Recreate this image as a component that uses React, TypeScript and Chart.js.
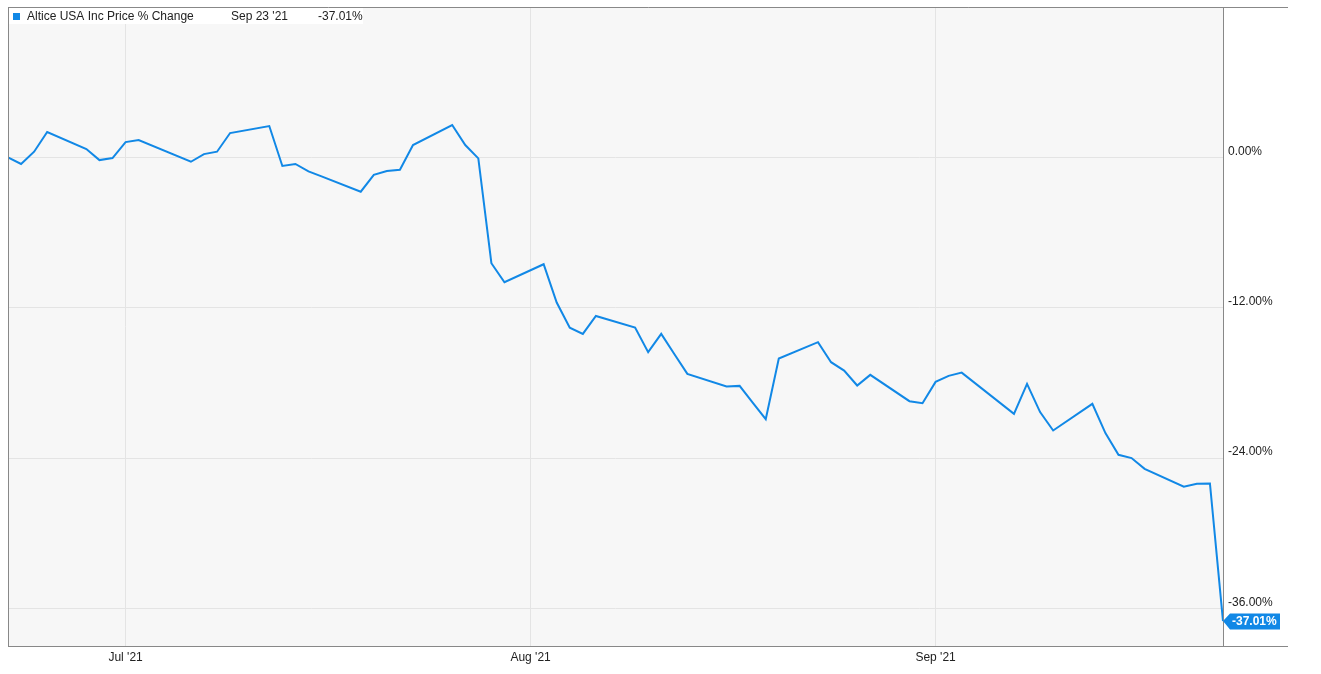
import React, { useEffect, useRef } from "react";
import { Chart, registerables } from "chart.js";

Chart.register(...registerables);

const SERIES_NAME = "Altice USA Inc Price % Change";
const LAST_DATE_LABEL = "Sep 23 '21";

const dates: string[] = [
  "2021-06-22", "2021-06-23", "2021-06-24", "2021-06-25", "2021-06-28", "2021-06-29", "2021-06-30",
  "2021-07-01", "2021-07-02", "2021-07-06", "2021-07-07", "2021-07-08", "2021-07-09",
  "2021-07-12", "2021-07-13", "2021-07-14", "2021-07-15", "2021-07-16",
  "2021-07-19", "2021-07-20", "2021-07-21", "2021-07-22", "2021-07-23",
  "2021-07-26", "2021-07-27", "2021-07-28", "2021-07-29", "2021-07-30",
  "2021-08-02", "2021-08-03", "2021-08-04", "2021-08-05", "2021-08-06",
  "2021-08-09", "2021-08-10", "2021-08-11", "2021-08-12", "2021-08-13",
  "2021-08-16", "2021-08-17", "2021-08-18", "2021-08-19", "2021-08-20",
  "2021-08-23", "2021-08-24", "2021-08-25", "2021-08-26", "2021-08-27",
  "2021-08-30", "2021-08-31", "2021-09-01", "2021-09-02", "2021-09-03",
  "2021-09-07", "2021-09-08", "2021-09-09", "2021-09-10",
  "2021-09-13", "2021-09-14", "2021-09-15", "2021-09-16", "2021-09-17",
  "2021-09-20", "2021-09-21", "2021-09-22", "2021-09-23",
];

const pctChange: number[] = [
  0.0, -0.53, 0.45, 2.02, 0.66, -0.22, -0.06,
  1.22, 1.38, -0.35, 0.26, 0.45, 1.94,
  2.5, -0.69, -0.53, -1.12, -1.52,
  -2.74, -1.39, -1.09, -0.99, 0.98,
  2.58, 0.98, -0.08, -8.45, -9.97,
  -8.53, -11.59, -13.59, -14.09, -12.66,
  -13.59, -15.55, -14.09, -15.69, -17.28,
  -18.29, -18.24, -19.57, -20.89, -16.06,
  -14.75, -16.35, -17.02, -18.21, -17.36,
  -19.46, -19.62, -17.92, -17.44, -17.18,
  -20.47, -18.08, -20.33, -21.8,
  -19.67, -22.01, -23.74, -24.0, -24.86,
  -26.29, -26.05, -26.03, -37.01,
];

const xTickDates: string[] = ["2021-07-01", "2021-08-01", "2021-09-01"];
const xTickLabels: string[] = ["Jul '21", "Aug '21", "Sep '21"];
const yTickValues: number[] = [-36, -24, -12, 0];

const BASE = Date.UTC(2021, 6, 1);
const dayOf = (s: string) => {
  const [y, m, d] = s.split("-").map(Number);
  return Math.round((Date.UTC(y, m - 1, d) - BASE) / 86400000);
};

const LINE_COLOR = "#1188e6";
const FONT = "'Liberation Sans', Arial, sans-serif";

export default function App() {
  const ref = useRef<HTMLCanvasElement | null>(null);

  useEffect(() => {
    if (!ref.current) return;
    const points = dates.map((d, i) => ({ x: dayOf(d), y: pctChange[i] }));
    const xTicks = xTickDates.map(dayOf);

    const decor = {
      id: "decor",
      beforeDraw(chart: any) {
        const { ctx, chartArea: a } = chart;
        ctx.save();
        ctx.fillStyle = "#f7f7f7";
        ctx.fillRect(a.left, a.top, a.right - a.left, a.bottom - a.top);
        ctx.restore();
      },
      afterDraw(chart: any) {
        const { ctx, chartArea: a } = chart;
        const xs = chart.scales.x;
        const ys = chart.scales.y;
        ctx.save();
        // frame lines
        ctx.strokeStyle = "#888888";
        ctx.lineWidth = 1;
        ctx.beginPath();
        ctx.moveTo(a.left + 0.5, a.top + 0.5);
        ctx.lineTo(1288, a.top + 0.5);
        ctx.moveTo(a.left + 0.5, a.top);
        ctx.lineTo(a.left + 0.5, a.bottom + 1);
        ctx.moveTo(a.left, a.bottom + 0.5);
        ctx.lineTo(1288, a.bottom + 0.5);
        ctx.stroke();

        // legend box
        ctx.fillStyle = "#ffffff";
        ctx.fillRect(a.left + 1, a.top + 1, 354, 16);
        ctx.fillStyle = LINE_COLOR;
        ctx.fillRect(13, 13, 7, 7);
        ctx.fillStyle = "#222222";
        ctx.font = "12px " + FONT;
        ctx.textBaseline = "middle";
        ctx.textAlign = "left";
        ctx.fillText(SERIES_NAME, 27, 16.5);
        ctx.fillText(LAST_DATE_LABEL, 231, 16.5);
        const last = pctChange[pctChange.length - 1];
        ctx.fillText(last.toFixed(2) + "%", 318, 16.5);

        // end value flag
        const lx = xs.getPixelForValue(points[points.length - 1].x);
        const ly = ys.getPixelForValue(last);
        ctx.fillStyle = LINE_COLOR;
        ctx.beginPath();
        ctx.moveTo(lx, ly);
        ctx.lineTo(lx + 7, ly - 7.5);
        ctx.lineTo(lx + 57, ly - 7.5);
        ctx.lineTo(lx + 57, ly + 8.5);
        ctx.lineTo(lx + 7, ly + 8.5);
        ctx.closePath();
        ctx.fill();
        ctx.fillStyle = "#ffffff";
        ctx.font = "bold 12px " + FONT;
        ctx.fillText(last.toFixed(2) + "%", lx + 9, ly + 1);
        ctx.restore();
      },
    };

    const chart = new Chart(ref.current, {
      type: "line",
      data: {
        datasets: [
          {
            label: SERIES_NAME,
            data: points,
            borderColor: LINE_COLOR,
            backgroundColor: LINE_COLOR,
            borderWidth: 2,
            pointRadius: 0,
            tension: 0,
            fill: false,
          },
        ],
      },
      options: {
        animation: false,
        responsive: true,
        maintainAspectRatio: false,
        layout: { padding: { left: 8, top: 7, right: 0, bottom: 0 } },
        plugins: { legend: { display: false }, tooltip: { enabled: false } },
        scales: {
          x: {
            type: "linear",
            min: dayOf(dates[0]),
            max: dayOf(dates[dates.length - 1]),
            afterBuildTicks: (s: any) => {
              s.ticks = xTicks.map((v) => ({ value: v }));
            },
            afterFit: (s: any) => {
              s.height = 28;
              s.paddingLeft = 0;
              s.paddingRight = 0;
            },
            ticks: {
              autoSkip: false,
              maxRotation: 0,
              padding: 4,
              color: "#222222",
              font: { family: FONT, size: 12 },
              callback: (_v: any, i: number) => xTickLabels[i],
            },
            grid: { color: "#e4e4e4", drawTicks: false },
            border: { display: true, color: "#888888" },
          },
          y: {
            type: "linear",
            position: "right",
            min: -39,
            max: 12,
            afterBuildTicks: (s: any) => {
              s.ticks = yTickValues.map((v) => ({ value: v }));
            },
            afterFit: (s: any) => {
              s.width = 98;
              s.paddingTop = 0;
              s.paddingBottom = 0;
            },
            ticks: {
              padding: 5,
              labelOffset: -6,
              color: "#222222",
              font: { family: FONT, size: 12 },
              callback: (v: any) => Number(v).toFixed(2) + "%",
            },
            grid: { color: "#e4e4e4", drawTicks: false },
            border: { display: true, color: "#888888" },
          },
        },
      },
      plugins: [decor],
    });
    return () => chart.destroy();
  }, []);

  return (
    <div style={{ position: "absolute", left: 0, top: 0, width: 1321, height: 674, background: "#ffffff" }}>
      <canvas ref={ref} />
    </div>
  );
}
